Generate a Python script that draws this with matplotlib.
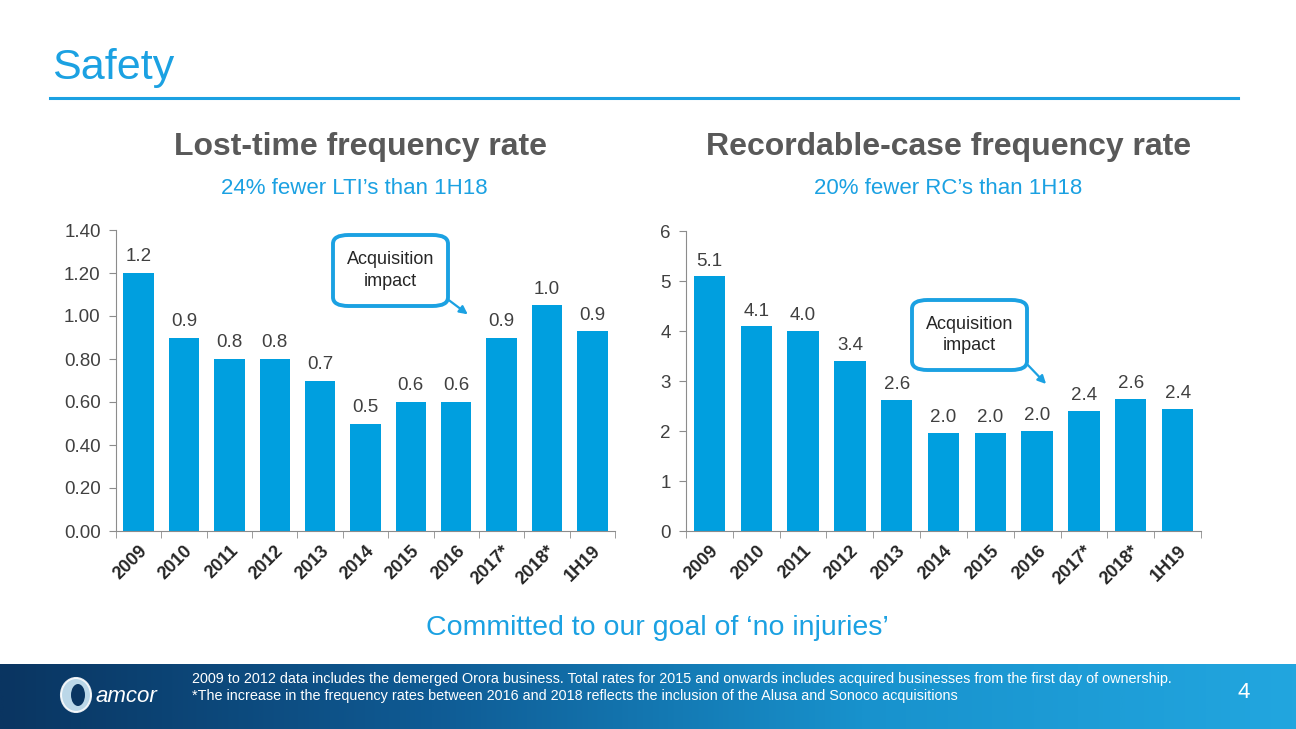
"""
Amcor safety slide: lost-time and recordable-case frequency rates.
"""

import numpy as np
import matplotlib.pyplot as plt
from matplotlib.patches import FancyBboxPatch, FancyArrowPatch, Ellipse
from matplotlib.colors import LinearSegmentedColormap

# ── DATA ────────────────────────────────────────────────────────────
CATEGORIES = ["2009", "2010", "2011", "2012", "2013", "2014", "2015",
              "2016", "2017*", "2018*", "1H19"]
LTI_VALUES = [1.20, 0.90, 0.80, 0.80, 0.70, 0.50, 0.60, 0.60, 0.90, 1.05, 0.93]
LTI_LABELS = ["1.2", "0.9", "0.8", "0.8", "0.7", "0.5", "0.6", "0.6", "0.9", "1.0", "0.9"]
RC_VALUES = [5.10, 4.10, 4.00, 3.40, 2.63, 1.97, 1.96, 2.00, 2.40, 2.65, 2.44]
RC_LABELS = ["5.1", "4.1", "4.0", "3.4", "2.6", "2.0", "2.0", "2.0", "2.4", "2.6", "2.4"]
LTI_TICKS = [0.0, 0.2, 0.4, 0.6, 0.8, 1.0, 1.2, 1.4]
RC_TICKS = [0, 1, 2, 3, 4, 5, 6]
# ────────────────────────────────────────────────────────────────────

BLUE = "#009fdf"
TITLE_BLUE = "#1ba1e2"
GREY = "#595959"
TEXT = "#404040"
AXIS = "#8c8c8c"

W, H = 1296, 729
plt.rcParams["font.family"] = ["Liberation Sans", "DejaVu Sans"]

fig = plt.figure(figsize=(W / 100, H / 100), dpi=100)


def px(x, y):
    return x / W, 1 - y / H


# header
fig.text(*px(52, 68), "Safety", color=TITLE_BLUE, fontsize=31, va="center", ha="left")
fig.add_artist(plt.Line2D([50 / W, 1238 / W], [1 - 98 / H] * 2, color=TITLE_BLUE, lw=2.2))


def bar_panel(rect, values, labels, ticks, fmt, label_gap):
    ax = fig.add_axes(rect)
    x = np.arange(len(values))
    ax.bar(x, values, width=0.67, color=BLUE, zorder=2)
    for xi, v, lab in zip(x, values, labels):
        ax.text(xi, v + label_gap, lab, ha="center", va="bottom", fontsize=13.5, color=TEXT)
    ax.set_xlim(-0.5, len(values) - 0.5)
    ax.set_ylim(ticks[0], ticks[-1])
    ax.set_yticks(ticks)
    ax.set_yticklabels([fmt.format(t) for t in ticks], fontsize=13.5, color=TEXT)
    ax.set_xticks(x)
    ax.set_xticklabels(CATEGORIES, rotation=45, ha="right", rotation_mode="anchor",
                       fontsize=13, fontweight="bold", color="#262626")
    ax.set_xticks(np.arange(len(values) + 1) - 0.5, minor=True)
    ax.tick_params(axis="x", which="major", length=0, pad=8)
    ax.tick_params(axis="x", which="minor", length=5, color=AXIS, direction="out")
    ax.tick_params(axis="y", length=5, color=AXIS, direction="out", pad=6)
    for s in ("top", "right"):
        ax.spines[s].set_visible(False)
    for s in ("left", "bottom"):
        ax.spines[s].set_color(AXIS)
    return ax


ax1 = bar_panel([116 / W, 1 - 531 / H, 499 / W, 301 / H], LTI_VALUES, LTI_LABELS,
                LTI_TICKS, "{:.2f}", 0.035)
ax2 = bar_panel([686 / W, 1 - 531 / H, 515 / W, 300 / H], RC_VALUES, RC_LABELS,
                RC_TICKS, "{:.0f}", 0.13)

# panel titles
fig.text(*px(361, 147), "Lost-time frequency rate", ha="center", va="center",
         fontsize=23, fontweight="bold", color=GREY)
fig.text(*px(354, 188), "24% fewer LTI\u2019s than 1H18", ha="center", va="center",
         fontsize=16, color=TITLE_BLUE)
fig.text(*px(949, 147), "Recordable-case frequency rate", ha="center", va="center",
         fontsize=23, fontweight="bold", color=GREY)
fig.text(*px(948, 188), "20% fewer RC\u2019s than 1H18", ha="center", va="center",
         fontsize=16, color=TITLE_BLUE)


# callouts
def callout(x0, y0, x1, y1, ax_from, ax_to):
    box = FancyBboxPatch(px(x0, y1), (x1 - x0) / W, (y1 - y0) / H,
                         boxstyle="round,pad=0,rounding_size=0.012",
                         transform=fig.transFigure, facecolor="white",
                         edgecolor=TITLE_BLUE, lw=2.8, zorder=5)
    fig.add_artist(box)
    fig.text(*px((x0 + x1) / 2, (y0 + y1) / 2), "Acquisition\nimpact", ha="center",
             va="center", fontsize=13, color="#262626", linespacing=1.35, zorder=6)
    fig.add_artist(FancyArrowPatch(
        px(*ax_from), px(*ax_to), transform=fig.transFigure, arrowstyle="-|>",
        mutation_scale=12, color=TITLE_BLUE, lw=1.6, zorder=6))


callout(333, 235, 448, 306, (446, 298), (470, 316))
callout(912, 300, 1027, 370, (1025, 362), (1048, 386))

# closing line
fig.text(*px(657, 628), "Committed to our goal of \u2018no injuries\u2019", ha="center",
         va="center", fontsize=20.5, color=TITLE_BLUE)

# footer band
fax = fig.add_axes([0, 0, 1, (H - 664) / H])
cmap = LinearSegmentedColormap.from_list("band", ["#0a3561", "#0f5b94", "#1892cd", "#22a6df"])
grad = np.linspace(0, 1, 512).reshape(1, -1)
fax.imshow(grad, aspect="auto", cmap=cmap, extent=[0, 1, 0, 1])
fax.set_xlim(0, 1)
fax.set_ylim(0, 1)
fax.axis("off")

fig.text(*px(192, 679), "2009 to 2012 data includes the demerged Orora business. Total rates "
         "for 2015 and onwards includes acquired businesses from the first day of ownership.",
         ha="left", va="center", fontsize=10.4, color="white")
fig.text(*px(192, 696), "*The increase in the frequency rates between 2016 and 2018 reflects "
         "the inclusion of the Alusa and Sonoco acquisitions",
         ha="left", va="center", fontsize=10.4, color="white")
fig.text(*px(1244, 693), "4", ha="center", va="center", fontsize=16, color="white")

# logo
fig.add_artist(Ellipse(px(76, 695), 30 / W, 34 / H, transform=fig.transFigure,
                       facecolor="#cfe9f7", edgecolor="white", lw=1.5, alpha=0.9))
fig.add_artist(Ellipse(px(78, 695), 14 / W, 22 / H, transform=fig.transFigure,
                       facecolor="#0a3561", edgecolor="none"))
fig.text(*px(96, 697), "amcor", ha="left", va="center", fontsize=16, color="white",
         style="italic")

fig.savefig("out.png", dpi=100)
